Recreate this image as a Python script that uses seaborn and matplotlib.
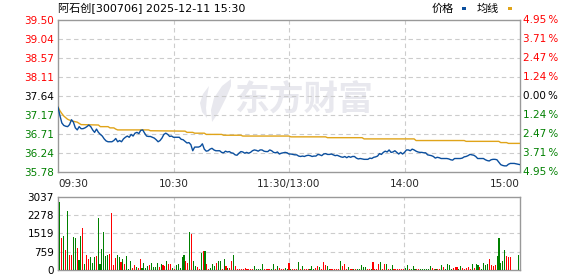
import numpy as np
import pandas as pd
import matplotlib
matplotlib.use("Agg")
import matplotlib.pyplot as plt
import matplotlib.transforms as mtransforms
from matplotlib.patches import Rectangle, Polygon
import seaborn as sns

# ---------------- data ----------------
title = "阿石创[300706] 2025-12-11 15:30"
time_ticks = [0, 60, 120, 180, 240]
time_labels = ["09:30", "10:30", "11:30/13:00", "14:00", "15:00"]

price_ticks = [35.78, 36.24, 36.71, 37.17, 37.64, 38.11, 38.57, 39.04, 39.50]
price_labels = ["35.78", "36.24", "36.71", "37.17", "37.64", "38.11", "38.57", "39.04", "39.50"]
pct_labels = ["4.95%", "3.71%", "2.47%", "1.24%", "0.00%", "1.24%", "2.47%", "3.71%", "4.95%"]
prev_close = 37.64

vol_ticks = [0, 759, 1519, 2278, 3037]
vol_labels = ["0", "759", "1519", "2278", "3037"]

price = [
    37.37, 37.16, 36.98, 36.92, 36.90, 36.89, 36.94, 37.06, 37.00, 36.86,
    36.81, 36.89, 36.84, 36.84, 36.86, 36.89, 36.93, 36.89, 36.81, 36.75,
    36.83, 36.75, 36.70, 36.66, 36.59, 36.54, 36.52, 36.52, 36.52, 36.55,
    36.60, 36.52, 36.55, 36.52, 36.59, 36.63, 36.66, 36.63, 36.70, 36.66,
    36.73, 36.75, 36.72, 36.80, 36.81, 36.73, 36.66, 36.65, 36.65, 36.63,
    36.61, 36.57, 36.52, 36.55, 36.61, 36.70, 36.73, 36.70, 36.65, 36.66,
    36.63, 36.63, 36.63, 36.63, 36.58, 36.57, 36.53, 36.49, 36.50, 36.45,
    36.30, 36.39, 36.39, 36.39, 36.41, 36.47, 36.34, 36.29, 36.30, 36.34,
    36.36, 36.32, 36.30, 36.30, 36.30, 36.26, 36.25, 36.29, 36.27, 36.28,
    36.25, 36.24, 36.20, 36.19, 36.24, 36.28, 36.27, 36.24, 36.26, 36.24,
    36.26, 36.30, 36.32, 36.31, 36.29, 36.32, 36.32, 36.29, 36.28, 36.28,
    36.32, 36.30, 36.26, 36.25, 36.27, 36.22, 36.24, 36.25, 36.26, 36.25,
    36.22, 36.22, 36.21, 36.20, 36.20, 36.17, 36.16, 36.17, 36.16, 36.18,
    36.19, 36.18, 36.16, 36.17, 36.17, 36.21, 36.20, 36.18, 36.22, 36.23,
    36.21, 36.21, 36.22, 36.20, 36.18, 36.19, 36.17, 36.15, 36.14, 36.16,
    36.13, 36.16, 36.14, 36.16, 36.16, 36.12, 36.10, 36.11, 36.10, 36.09,
    36.09, 36.09, 36.12, 36.11, 36.14, 36.15, 36.17, 36.23, 36.21, 36.26,
    36.29, 36.27, 36.32, 36.26, 36.27, 36.30, 36.26, 36.22, 36.26, 36.22,
    36.26, 36.32, 36.32, 36.30, 36.34, 36.32, 36.29, 36.27, 36.26, 36.26,
    36.25, 36.25, 36.20, 36.19, 36.18, 36.16, 36.12, 36.14, 36.13, 36.11,
    36.11, 36.11, 36.11, 36.10, 36.08, 36.07, 36.11, 36.11, 36.11, 36.11,
    36.12, 36.15, 36.16, 36.18, 36.21, 36.20, 36.19, 36.16, 36.11, 36.11,
    36.11, 36.11, 36.08, 36.06, 36.05, 36.08, 36.09, 36.09, 36.08, 36.02,
    35.96, 35.94, 35.93, 35.93, 35.97, 35.99, 35.99, 35.99, 35.98, 35.97,
    35.96,
]

avg_min = [0, 1, 2, 3, 4, 5, 6, 8, 10, 12, 21, 22, 26, 27, 29, 30, 31, 47, 48, 66,
           67, 70, 71, 76, 77, 85, 86, 95, 96, 120, 121, 139, 140, 158, 159, 185, 186,
           211, 212, 229, 230, 233, 234, 240]
avg_val = [37.37, 37.28, 37.21, 37.15, 37.11, 37.07, 37.05, 37.02, 37.00, 36.94,
           36.93, 36.89, 36.89, 36.86, 36.86, 36.83, 36.81, 36.81, 36.79, 36.78,
           36.75, 36.75, 36.73, 36.73, 36.70, 36.70, 36.68, 36.68, 36.66, 36.66,
           36.64, 36.64, 36.62, 36.62, 36.59, 36.59, 36.55, 36.55, 36.53, 36.53,
           36.50, 36.50, 36.48, 36.48]

volume = [
    2815, 1325, 1408, 814, 2470, 607, 635, 1366, 1325, 897,
    400, 1408, 1739, 235, 607, 442, 538, 304, 538, 566,
    2153, 235, 856, 1601, 566, 635, 676, 2374, 193, 497,
    635, 538, 331, 442, 235, 566, 55, 359, 69, 193,
    138, 83, 442, 97, 276, 83, 166, 193, 304, 138,
    124, 290, 124, 262, 193, 166, 359, 235, 235, 69,
    55, 193, 235, 97, 538, 607, 359, 304, 1601, 1490,
    359, 166, 124, 55, 718, 787, 773, 235, 55, 83,
    262, 152, 276, 359, 359, 55, 442, 152, 83, 97,
    359, 607, 152, 55, 55, 55, 55, 69, 55, 55,
    55, 55, 166, 55, 55, 55, 235, 55, 55, 55,
    55, 55, 262, 55, 152, 83, 55, 55, 83, 55,
    276, 42, 42, 42, 42, 317, 42, 152, 42, 42,
    42, 42, 152, 55, 83, 152, 110, 55, 317, 193,
    152, 55, 42, 42, 42, 55, 42, 359, 152, 235,
    55, 110, 42, 42, 42, 55, 55, 42, 193, 110,
    110, 55, 42, 55, 317, 42, 42, 262, 345, 55,
    262, 262, 42, 42, 193, 42, 42, 42, 42, 42,
    42, 83, 193, 42, 42, 152, 42, 42, 42, 42,
    42, 42, 42, 42, 152, 83, 42, 42, 42, 42,
    193, 110, 42, 235, 193, 42, 97, 110, 110, 42,
    152, 97, 42, 83, 110, 42, 235, 83, 235, 193,
    110, 42, 304, 193, 235, 469, 193, 166, 193, 566,
    1325, 304, 359, 814, 566, 524, 524, 0, 0, 0,
    607,
]
vol_dir = (
    "GRGRGRRGGR GGRGRRGGGR GGGGGGRRRR GGRGRGGGRR GRRGGGGRGG "
    "GGRGRRGRRG RGGGGGRRGR GGRRGRGRRG GGRGGRGRGR RGRRRRRRRR "
    "RRGGGGGRRR RGGRGRRRGG RGRRRGRGRR RGGGRRGRRR GGRRRRRGRR "
    "RGRRGRGGGG GRRGRRRRGR RGRGGRRRRR RGGRGGGRRG GGGGGRRGRR "
    "GRGGGGRRRG GRRRRRGRGG RGGGGRRRRG GGGGRRRGGG G"
).replace(" ", "")

minutes = list(range(len(price)))

# ---------------- style ----------------
sns.set_theme(style="white")
plt.rcParams['font.family'] = ['DejaVu Sans', 'Noto Sans CJK SC']

W, H = 578, 276
fig = plt.figure(figsize=(W / 100, H / 100), dpi=100)
fig.patch.set_facecolor("white")

def fx(x):
    return x / W

def fy(y):
    return 1 - y / H

ax1 = fig.add_axes([fx(58), fy(172), (520 - 58) / W, (172 - 20) / H])
ax2 = fig.add_axes([fx(58), fy(270), (520 - 58) / W, (270 - 197) / H])

RED = "#ff0000"
GREEN = "#008000"
BLUE = "#0b4f9e"
ORANGE = "#e0a419"
GRID = "#cccccc"
SPINE = "#999999"
WM = "#e8e8ee"
dash = (0, (4, 3))

# watermark (text + simple logo)
fig.text(fx(304), fy(99), "东方财富", ha="center", va="center",
         fontsize=25, fontweight="bold", color=WM,
         family=["Noto Sans CJK SC", "DejaVu Sans"], zorder=0.5)
logo1 = [(231, 79), (222, 86), (214, 98), (211, 110), (212, 122), (219, 112), (226, 98), (231, 86)]
logo2 = [(209, 86), (203, 94), (200, 103), (202, 112), (207, 118), (206, 108), (207, 97)]
for pts in (logo1, logo2):
    fig.patches.append(Polygon([(fx(a), fy(b)) for a, b in pts], closed=True,
                               transform=fig.transFigure, facecolor=WM, edgecolor="none", zorder=0.5))
ax1.patch.set_alpha(0)
ax1.set_zorder(2)

# price + average
df_p = pd.DataFrame({"minute": minutes, "price": price})
df_a = pd.DataFrame({"minute": avg_min, "avg": avg_val})
sns.lineplot(data=df_a, x="minute", y="avg", ax=ax1, color=ORANGE, linewidth=1.0, sort=False, zorder=3)
sns.lineplot(data=df_p, x="minute", y="price", ax=ax1, color=BLUE, linewidth=1.0, sort=False, zorder=4)

ax1.set_xlim(0, 240)
ax1.set_ylim(price_ticks[0], price_ticks[-1])
ax1.set_yticks(price_ticks)
ax1.set_yticklabels(price_labels, fontsize=7.5)
for t, v in zip(ax1.get_yticklabels(), price_ticks):
    t.set_color(RED if v > prev_close + 1e-6 else ("#000000" if abs(v - prev_close) < 1e-6 else GREEN))
ax1.set_xticks(time_ticks)
ax1.set_xticklabels(time_labels, fontsize=7.5)
xl = ax1.get_xticklabels()
xl[0].set_ha("left")
xl[-1].set_ha("right")
ax1.tick_params(axis="both", length=0, pad=3)
ax1.tick_params(axis="x", pad=5)
ax1.set_xlabel("")
ax1.set_ylabel("")
for v in price_ticks[1:-1]:
    ax1.axhline(v, color=GRID, lw=0.8, ls=dash, zorder=1)
for v in time_ticks[1:-1]:
    ax1.axvline(v, color=GRID, lw=0.8, ls=dash, zorder=1)

trans = mtransforms.blended_transform_factory(ax1.transAxes, ax1.transData)
for v, lab in zip(price_ticks, pct_labels):
    c = RED if v > prev_close + 1e-6 else ("#000000" if abs(v - prev_close) < 1e-6 else GREEN)
    ax1.text(1.007, v, lab.replace("%", "\u2009%"), transform=trans, ha="left", va="center",
             fontsize=7.5, color=c)

# volume
df_v = pd.DataFrame({"minute": minutes, "vol": volume, "dir": list(vol_dir)})
sns.barplot(data=df_v, x="minute", y="vol", hue="dir", palette={"R": RED, "G": GREEN},
            native_scale=True, dodge=False, width=0.6, errorbar=None, legend=False,
            saturation=1, linewidth=0, ax=ax2, zorder=3)
for p in ax2.patches:
    p.set_antialiased(False)
ax2.set_xlim(-1, 241)
ax2.set_ylim(0, vol_ticks[-1])
ax2.set_yticks(vol_ticks)
ax2.set_yticklabels(vol_labels, fontsize=7.5, color="#000000")
ax2.set_xticks([])
ax2.tick_params(axis="both", length=0, pad=3)
ax2.set_xlabel("")
ax2.set_ylabel("")
for v in vol_ticks[1:-1]:
    ax2.axhline(v, color=GRID, lw=0.8, ls=dash, zorder=1)
for v in time_ticks[1:-1]:
    ax2.axvline(v, color=GRID, lw=0.8, ls=dash, zorder=1)

for ax in (ax1, ax2):
    for s in ax.spines.values():
        s.set_visible(True)
        s.set_color(SPINE)
        s.set_linewidth(1.0)

# title and legend
fig.text(fx(58), fy(9), title, ha="left", va="center", fontsize=8, color="#000000",
         family=["DejaVu Sans", "Noto Sans CJK SC"])
fig.text(fx(432), fy(9), "价格", ha="left", va="center", fontsize=8, color="#000000",
         family=["Noto Sans CJK SC", "DejaVu Sans"])
fig.text(fx(477), fy(9), "均线", ha="left", va="center", fontsize=8, color="#000000",
         family=["Noto Sans CJK SC", "DejaVu Sans"])
fig.patches.append(Rectangle((fx(462), fy(10)), 4 / W, 3 / H, transform=fig.transFigure,
                             facecolor=BLUE, edgecolor="none"))
fig.patches.append(Rectangle((fx(508), fy(10)), 4 / W, 3 / H, transform=fig.transFigure,
                             facecolor=ORANGE, edgecolor="none"))

fig.savefig("out.png", dpi=100, facecolor="white")
